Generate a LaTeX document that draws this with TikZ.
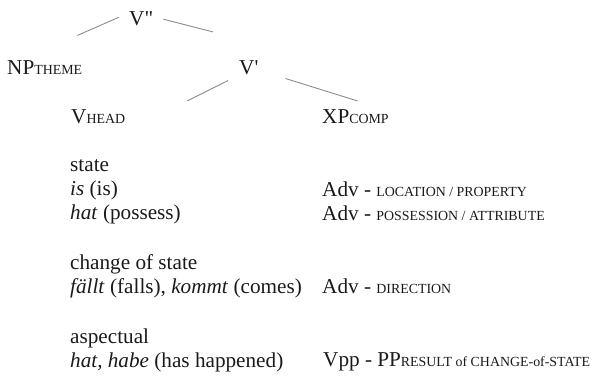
\documentclass[tikz,border=0pt]{standalone}
\usepackage{fontspec}
\setmainfont{Liberation Serif}[Ligatures=TeXOff]
\newcommand{\fs}{\fontsize{21.2pt}{24pt}\selectfont}
\newcommand{\sub}[1]{{\fontsize{13.9pt}{14pt}\selectfont #1}}
\definecolor{ink}{HTML}{1A1A1A}
\definecolor{branchgray}{HTML}{8C8C8C}
\tikzset{
  lab/.style={anchor=base west, inner sep=0pt, font=\fs, text=ink},
  branch/.style={draw=branchgray, line width=0.9pt}
}
\begin{document}
\begin{tikzpicture}[x=1pt,y=1pt]
\useasboundingbox (0,0) rectangle (597,-376);
% tree
\node[lab] (V2) at (129,-25) {V"};
\node[lab] (NP) at (7,-74) {NP\sub{THEME}};
\node[lab] (V1) at (239,-74) {V'};
\node[lab] (VH) at (71,-123) {V\sub{HEAD}};
\node[lab] (XP) at (322,-123) {XP\sub{COMP}};
% left column
\node[lab] (s1) at (70,-171) {state};
\node[lab] (s2) at (70,-195) {\textit{is} (is)};
\node[lab] (s3) at (70,-219) {\textit{hat} (possess)};
\node[lab] (c1) at (70,-269) {change of state};
\node[lab] (c2) at (70,-293) {\textit{fällt} (falls), \textit{kommt} (comes)};
\node[lab] (a1) at (70,-343) {aspectual};
\node[lab] (a2) at (70,-367) {\textit{hat, habe} (has happened)};
% right column
\node[lab] (r1) at (322,-196) {Adv - \sub{LOCATION / PROPERTY}};
\node[lab] (r2) at (322,-220) {Adv - \sub{POSSESSION / ATTRIBUTE}};
\node[lab] (r3) at (322,-293) {Adv - \sub{DIRECTION}};
\node[lab] (r4) at (323,-366) {Vpp - PP\sub{RESULT of CHANGE-of-STATE}};
% branches
\draw[branch] ([shift={(-10pt,1pt)}]V2.west) -- ([shift={(-5pt,24.5pt)}]NP.north east);
\draw[branch] ([shift={(10pt,-1pt)}]V2.east) -- ([shift={(-26pt,28pt)}]V1.north west);
\draw[branch] ([shift={(-11pt,-6pt)}]V1.south west) -- ([shift={(62pt,8pt)}]VH.north east);
\draw[branch] ([shift={(27pt,-4pt)}]V1.south east) -- ([shift={(2pt,8pt)}]XP.north);
\end{tikzpicture}
\end{document}
